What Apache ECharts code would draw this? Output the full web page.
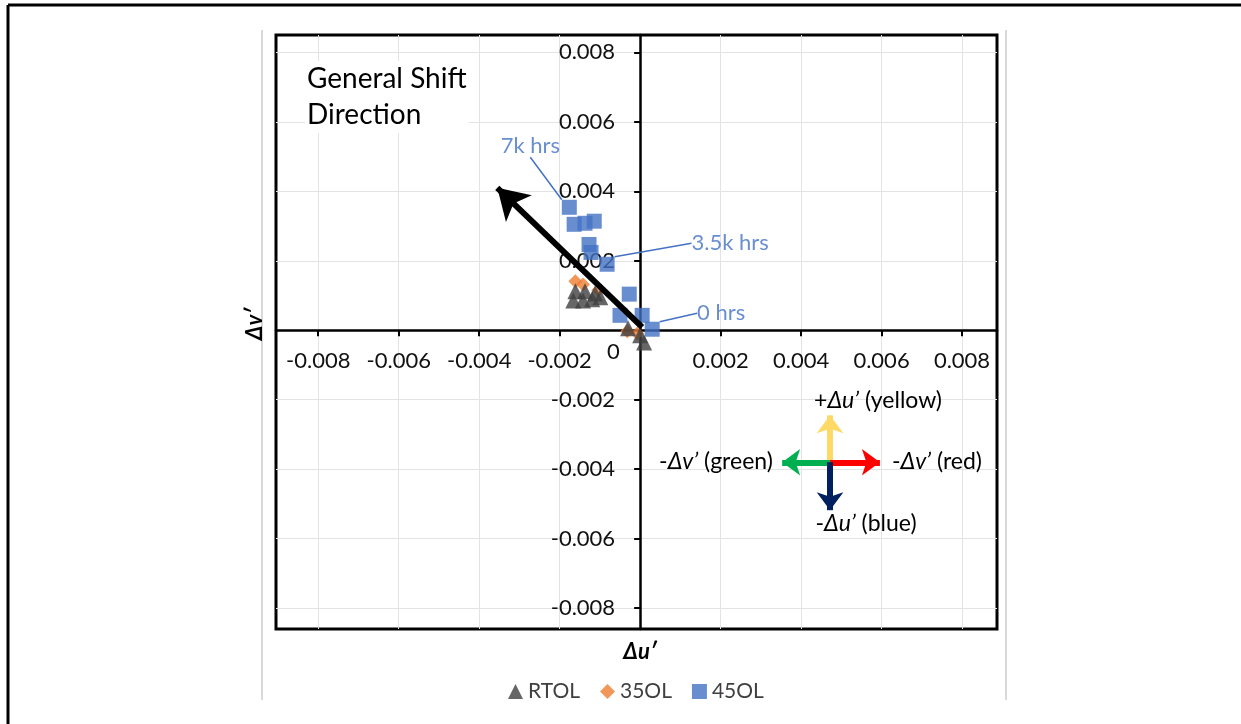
<!DOCTYPE html>
<html>
<head>
<meta charset="utf-8">
<script src="https://cdn.jsdelivr.net/npm/echarts@6/dist/echarts.min.js"></script>
<style>
  html, body { margin: 0; padding: 0; background: #fff; }
  #chart { width: 1241px; height: 724px; }
</style>
</head>
<body>
<div id="chart"></div>
<script>
// Chromaticity shift per group: x = Δu', y = Δv'
const seriesNames = ['RTOL', '35OL', '45OL'];

const rtolPoints = [
  [-0.00161, 0.00112], [-0.00137, 0.00112], [-0.00112, 0.00106], [-0.00099, 0.00095],
  [-0.00166, 0.00086], [-0.00142, 0.00086], [-0.00119, 0.00089],
  [-0.00030, 0.00006], [0.00000, -0.00014], [0.00010, -0.00035]
];
const ol35Points = [
  [-0.00161, 0.00141], [-0.00142, 0.00132], [-0.00104, 0.00115],
  [-0.00032, -0.00003], [-0.00007, -0.00009]
];
const ol45Points = [
  [-0.00176, 0.00354], [-0.00164, 0.00305], [-0.00137, 0.00308], [-0.00114, 0.00314],
  [-0.00127, 0.00247], [-0.00122, 0.00224], [-0.00082, 0.00190],
  [-0.00027, 0.00104], [-0.00050, 0.00043], [0.00005, 0.00043], [0.00030, 0.00003]
];

// Elapsed-hours callouts on the 45OL series (point index -> text, label offset in px)
const hourCallouts = [
  { index: 0, text: '7k hrs', dx: -39, dy: -61 },
  { index: 6, text: '3.5k hrs', dx: 123, dy: -21 },
  { index: 10, text: '0 hrs', dx: 69, dy: -16 }
];

// Tick values shown on both axes (zero is labelled separately)
const tickValues = [-0.008, -0.006, -0.004, -0.002, 0.002, 0.004, 0.006, 0.008];
const xRange = [-0.00905, 0.00887];
const yRange = [-0.0086, 0.0085];

// Overall drift arrow (tail -> head) in Δu', Δv'
const shiftArrow = [[0.00005, 0.00009], [-0.00355, 0.00410]];

// Colour-direction key: centre and arrow tips in Δu', Δv'
const keyCentre = [0.00472, -0.00380];
const keyArrows = [
  { tip: [0.00472, -0.00245], color: '#FFD966' },
  { tip: [0.00353, -0.00380], color: '#00B050' },
  { tip: [0.00596, -0.00380], color: '#FF0000' },
  { tip: [0.00472, -0.00518], color: '#002060' }
];

const FONT = 'Lato, "Open Sans", "DejaVu Sans", sans-serif';
const BLUE = '#4472C4';

// plot rectangle
const GRID = { left: 276, top: 35, width: 721, height: 594 };

// axes cross at zero: shift each axis inward from its grid edge to the zero line
const xAxisOffset = -GRID.height * (0 - yRange[0]) / (yRange[1] - yRange[0]);
const yAxisOffset = -GRID.width * (0 - xRange[0]) / (xRange[1] - xRange[0]);

const ol45Data = ol45Points.map(function (p, i) {
  const c = hourCallouts.find(function (h) { return h.index === i; });
  if (!c) return p;
  return {
    value: p,
    label: { show: true, formatter: c.text },
    labelLine: { show: true, lineStyle: { color: BLUE, width: 1.5 } }
  };
});

const chart = echarts.init(document.getElementById('chart'), null, { renderer: 'canvas' });

const axisCommon = {
  type: 'value',
  axisLine: { onZero: false, lineStyle: { color: '#000', width: 2.5 } },
  axisTick: { show: true, customValues: tickValues, length: 6, lineStyle: { color: '#000', width: 2 } },
  axisLabel: {
    customValues: tickValues,
    fontFamily: FONT, fontSize: 22, color: '#111',
    formatter: function (v) { return v.toFixed(3); }
  },
  splitLine: { show: true, lineStyle: { color: '#e3e3e3', width: 1 } }
};

const keyText = function (x, y, text) {
  return {
    type: 'text', x: x, y: y, z: 10,
    style: {
      text: text,
      rich: { i: { fontStyle: 'italic', fontSize: 23, fontFamily: FONT } },
      fontSize: 23, fontFamily: FONT, fill: '#000', align: 'center', verticalAlign: 'middle'
    }
  };
};

chart.setOption({
  animation: false,
  backgroundColor: '#fff',
  grid: {
    left: GRID.left, top: GRID.top, width: GRID.width, height: GRID.height,
    show: true, borderColor: '#000', borderWidth: 3, backgroundColor: 'transparent'
  },
  xAxis: Object.assign({}, axisCommon, {
    min: xRange[0], max: xRange[1], position: 'bottom', offset: xAxisOffset,
    axisLabel: Object.assign({}, axisCommon.axisLabel, { margin: 20 })
  }),
  yAxis: Object.assign({}, axisCommon, {
    min: yRange[0], max: yRange[1], position: 'left', offset: yAxisOffset,
    axisLabel: Object.assign({}, axisCommon.axisLabel, { margin: 25 })
  }),
  legend: {
    data: seriesNames,
    top: 676, left: 503,
    itemWidth: 15, itemHeight: 15, itemGap: 20,
    textStyle: { fontFamily: FONT, fontSize: 21, color: '#404040' }
  },
  series: [
    {
      name: '45OL', type: 'scatter', symbol: 'rect', symbolSize: 15,
      itemStyle: { color: BLUE },
      data: ol45Data,
      label: {
        show: false, position: 'inside',
        fontFamily: FONT, fontSize: 22, color: BLUE
      },
      labelLayout: function (p) {
        const c = hourCallouts.find(function (h) { return h.index === p.dataIndex; });
        return c ? { dx: c.dx, dy: c.dy } : {};
      },
      z: 2
    },
    {
      name: '35OL', type: 'scatter', symbol: 'diamond', symbolSize: 14,
      itemStyle: { color: '#ED7D31' },
      data: ol35Points,
      z: 3
    },
    {
      name: 'RTOL', type: 'scatter', symbol: 'triangle', symbolSize: 16,
      itemStyle: { color: '#404040' },
      data: rtolPoints,
      z: 4,
      markLine: {
        silent: true, animation: false,
        symbol: ['none', 'arrow'], symbolSize: [28, 30],
        label: { show: false },
        lineStyle: { color: '#000', width: 6, type: 'solid' },
        data: [[{ coord: shiftArrow[0] }, { coord: shiftArrow[1] }]]
      }
    },
    {
      name: 'key', type: 'scatter', data: [], silent: true,
      markLine: {
        silent: true, animation: false,
        symbol: ['none', 'arrow'], symbolSize: [20, 18],
        label: { show: false },
        data: keyArrows.map(function (a) {
          return [
            { coord: keyCentre, lineStyle: { color: a.color, width: 6, type: 'solid' } },
            { coord: a.tip, itemStyle: { color: a.color } }
          ];
        })
      }
    }
  ],
  graphic: [
    // page frame
    { type: 'line', shape: { x1: 8, y1: 5, x2: 1241, y2: 5 }, style: { stroke: '#000', lineWidth: 3 } },
    { type: 'line', shape: { x1: 8, y1: 5, x2: 8, y2: 724 }, style: { stroke: '#000', lineWidth: 3 } },
    { type: 'line', shape: { x1: 262, y1: 30, x2: 262, y2: 700 }, style: { stroke: '#d9d9d9', lineWidth: 2 } },
    { type: 'line', shape: { x1: 1006, y1: 30, x2: 1006, y2: 700 }, style: { stroke: '#d9d9d9', lineWidth: 2 } },
    // zero tick label
    { type: 'text', left: 607, top: 341, style: { text: '0', font: '22px ' + FONT, fill: '#111' } },
    // axis titles
    { type: 'text', x: 640, y: 652, style: { text: 'Δu′', font: 'italic bold 22px ' + FONT, fill: '#000', align: 'center', verticalAlign: 'middle' } },
    { type: 'text', x: 255, y: 324, rotation: Math.PI / 2, style: { text: 'Δv′', font: 'italic bold 22px ' + FONT, fill: '#000', align: 'center', verticalAlign: 'middle' } },
    // annotation
    { type: 'text', left: 305, top: 61, z: 10, style: { text: 'General Shift\nDirection', font: '28px ' + FONT, lineHeight: 36, fill: '#000', backgroundColor: '#fff', padding: [0, 2, 0, 2] } },
    // colour-direction key labels
    keyText(878, 401, '+{i|Δu’} (yellow)'),
    keyText(937, 462, '-{i|Δv’} (red)'),
    keyText(716, 462, '-{i|Δv’} (green)'),
    keyText(866, 524, '-{i|Δu’} (blue)')
  ]
});
</script>
</body>
</html>
